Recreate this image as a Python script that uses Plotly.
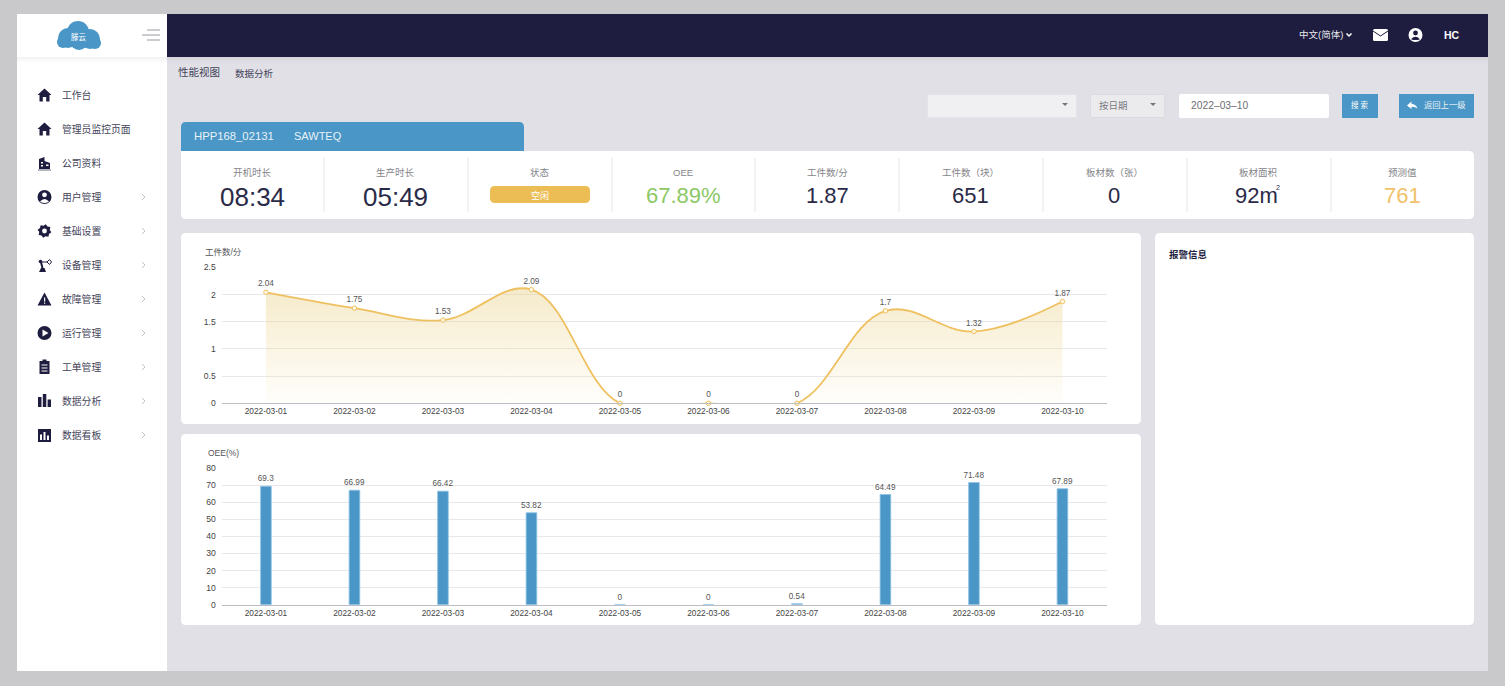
import math
import re
import plotly.graph_objects as go

# -----------------------------
# Data
# -----------------------------
dates = ["2022-03-01", "2022-03-02", "2022-03-03", "2022-03-04", "2022-03-05",
         "2022-03-06", "2022-03-07", "2022-03-08", "2022-03-09", "2022-03-10"]
parts_per_min = [2.04, 1.75, 1.53, 2.09, 0, 0, 0, 1.7, 1.32, 1.87]
oee_values = [69.3, 66.99, 66.42, 53.82, 0, 0, 0.54, 64.49, 71.48, 67.89]

menu_labels = ["工作台", "管理员监控页面", "公司资料", "用户管理", "基础设置", "设备管理",
               "故障管理", "运行管理", "工单管理", "数据分析", "数据看板"]
kpi_labels = ["开机时长", "生产时长", "状态", "OEE", "工件数/分", "工件数（块）", "板材数（张）", "板材面积", "预测值"]
kpi_values = ["08:34", "05:49", "", "67.89%", "1.87", "651", "0", "92m", "761"]

W, H = 1505, 686
FONT = "Liberation Sans, Noto Sans CJK SC, sans-serif"
NAVY = "#1f1d3f"
BLUE = "#4a96c6"
YELLOW = "#ecbd55"

shapes = []
notes = []

# -----------------------------
# Pixel helpers (everything outside the charts is placed in screen pixels)
# -----------------------------
def fx(x):
    return x / W

def fy(y):
    return 1 - y / H

def to_paper(path):
    out = []
    is_x = True
    for tok in re.findall(r"[MLQCZ]|-?\d+\.?\d*", path):
        if tok in "MLQCZ":
            out.append(tok)
            is_x = True
        else:
            out.append(f"{fx(float(tok)) if is_x else fy(float(tok)):.5f}")
            is_x = not is_x
    return " ".join(out)

def add_path(path, color, line=None, width=1):
    shapes.append(dict(type="path", path=to_paper(path), xref="paper", yref="paper", layer="below",
                       fillcolor=color if color else "rgba(0,0,0,0)",
                       line=dict(color=line if line else "rgba(0,0,0,0)", width=width if line else 0)))

def rect(x0, y0, x1, y1, color, line=None):
    shapes.append(dict(type="rect", xref="paper", yref="paper", layer="below",
                       x0=fx(x0), x1=fx(x1), y0=fy(y0), y1=fy(y1), fillcolor=color,
                       line=dict(color=line if line else "rgba(0,0,0,0)", width=1 if line else 0)))

def rrect(x0, y0, x1, y1, color, tl=5, tr=5, br=5, bl=5, line=None):
    p = (f"M {x0+tl} {y0} L {x1-tr} {y0} Q {x1} {y0} {x1} {y0+tr} L {x1} {y1-br} Q {x1} {y1} {x1-br} {y1} "
         f"L {x0+bl} {y1} Q {x0} {y1} {x0} {y1-bl} L {x0} {y0+tl} Q {x0} {y0} {x0+tl} {y0} Z")
    add_path(p, color, line)

def circle(cx, cy, r, color):
    shapes.append(dict(type="circle", xref="paper", yref="paper", layer="below",
                       x0=fx(cx-r), x1=fx(cx+r), y0=fy(cy-r), y1=fy(cy+r), fillcolor=color,
                       line=dict(color="rgba(0,0,0,0)", width=0)))

def seg(x0, y0, x1, y1, color, width=1):
    shapes.append(dict(type="line", xref="paper", yref="paper", layer="below",
                       x0=fx(x0), x1=fx(x1), y0=fy(y0), y1=fy(y1), line=dict(color=color, width=width)))

def txt(x, y, text, size, color, anchor="left", bold=False):
    notes.append(dict(x=fx(x), y=fy(y), xref="paper", yref="paper", text=f"<b>{text}</b>" if bold else text,
                      showarrow=False, xanchor=anchor, yanchor="middle", borderpad=0,
                      font=dict(family=FONT, size=size, color=color)))

# -----------------------------
# Page frame
# -----------------------------
rect(17, 14, 1488, 671, "#e0e0e6")
rect(167, 14, 1488, 57, NAVY)
rect(17, 14, 167, 671, "#ffffff")
for i, alpha in enumerate([0.05, 0.035, 0.02, 0.01]):
    rect(17, 57 + i*1.5, 167, 58.5 + i*1.5, f"rgba(0,0,0,{alpha})")
    rect(167, 57 + i*1.5, 1488, 58.5 + i*1.5, f"rgba(0,0,0,{alpha})")

# logo
for cx, cy, r in [(68, 38, 10), (78, 32, 11), (90, 39, 10), (79, 41, 9), (63, 42, 6), (95, 43, 6)]:
    circle(cx, cy, r, BLUE)
txt(78.5, 37, "滕云", 7.5, "#ffffff", "center")
seg(147, 30, 160, 30, "#9a9aa2")
seg(142, 35, 160, 35, "#9a9aa2")
seg(147, 40, 160, 40, "#9a9aa2")

# -----------------------------
# Sidebar
# -----------------------------
def home(cy):
    add_path(f"M 44.5 {cy-6.5} L 51.5 {cy} L 49.5 {cy} L 49.5 {cy+6.5} L 46.2 {cy+6.5} L 46.2 {cy+2} L 42.8 {cy+2} "
             f"L 42.8 {cy+6.5} L 39.5 {cy+6.5} L 39.5 {cy} L 37.5 {cy} Z", NAVY)

menu_y = [95, 129, 163, 197, 231, 265, 299, 333, 367, 401, 435]
for i, (label, y) in enumerate(zip(menu_labels, menu_y)):
    txt(61, y, label, 9.8, "#44445a")
    if i >= 3:
        add_path(f"M 142 {y-3} L 145 {y} L 142 {y+3}", None, "#c4c4c8", 1)

home(95)
home(129)
# building
add_path("M 39 169 L 39 159 L 44.5 157 L 44.5 161 L 50 163 L 50 169 Z", NAVY)
seg(38, 170, 51, 170, "#6e6e82", 1)
rect(46, 164.5, 48.5, 166, "#ffffff")
rect(41, 162, 43, 163.5, "#ffffff")
rect(41, 165, 43, 166.5, "#ffffff")
# user
circle(44.5, 197, 7, NAVY)
circle(44.5, 194.8, 2.4, "#ffffff")
add_path("M 40 201.5 Q 44.5 196.5 49 201.5 Q 44.5 204.5 40 201.5 Z", "#ffffff")
# gear
gear = []
for k in range(16):
    a = math.radians(k * 22.5 + 11)
    r = 7 if k % 2 == 0 else 5.4
    gear.append(f"{'M' if k == 0 else 'L'} {44.5 + r*math.cos(a):.2f} {231 + r*math.sin(a):.2f}")
add_path(" ".join(gear) + " Z", NAVY)
circle(44.5, 231, 2.4, "#ffffff")
# robot arm
add_path("M 39 272 L 46 272 L 44.5 268 L 41 268 Z", NAVY)
seg(42.5, 268, 41, 262, NAVY, 2)
seg(41, 262, 47, 262, NAVY, 1)
circle(40.5, 261.5, 1.8, NAVY)
add_path("M 47 262 L 49.5 259.5 L 51.5 262 L 49.5 264.5 Z", None, NAVY, 1)
# warning
add_path("M 44.5 292.5 L 51.5 305.5 L 37.5 305.5 Z", NAVY)
rect(44, 297.5, 45.2, 301.5, "#ffffff")
rect(44, 302.5, 45.2, 303.7, "#ffffff")
# play
circle(44.5, 333, 7, NAVY)
add_path("M 42.5 329.5 L 48.5 333 L 42.5 336.5 Z", "#ffffff")
# clipboard
rect(39.5, 361, 49.5, 374, NAVY)
rect(42.5, 359.5, 46.5, 362, NAVY)
for yy in [364.5, 367.5, 370.5]:
    rect(41.5, yy, 47.5, yy + 1, "#ffffff")
# bars
rect(38, 397, 41.5, 407, NAVY)
rect(42.8, 394, 46.3, 407, NAVY)
rect(47.6, 399.5, 51, 407, NAVY)
# board
rect(38, 429, 51, 442, NAVY)
rect(40, 434.5, 42, 440, "#ffffff")
rect(43.5, 432, 45.5, 440, "#ffffff")
rect(47, 435.5, 49, 440, "#ffffff")

# -----------------------------
# Top bar + toolbar
# -----------------------------
txt(1298, 35, "中文(简体)", 9.5, "#e8e8ee")
add_path("M 1346.5 33.5 L 1349 36 L 1351.5 33.5", None, "#ffffff", 1.5)
rrect(1373, 29, 1388, 41, "#ffffff", 1.5, 1.5, 1.5, 1.5)
add_path("M 1373 31 L 1380.5 36 L 1388 31", None, NAVY, 1)
circle(1415.5, 35, 7, "#ffffff")
circle(1415.5, 33, 2.4, NAVY)
add_path("M 1411 39.2 Q 1415.5 34.5 1420 39.2 Q 1415.5 41 1411 39.2 Z", NAVY)
txt(1452, 35, "HC", 10.5, "#ffffff", "center", bold=True)

txt(177, 72, "性能视图", 10.5, "#44445a")
txt(234, 73, "数据分析", 9.5, "#44445a")

rect(927.5, 94.5, 1076.5, 117.5, "#f0f0f3", "#e4e4e8")
add_path("M 1062 103 L 1068 103 L 1065 106 Z", "#777777")
rect(1090.5, 94.5, 1164.5, 117.5, "#ebebed", "#dcdce0")
add_path("M 1150 103 L 1156 103 L 1153 106 Z", "#777777")
txt(1098, 105, "按日期", 9.5, "#7a7a80")
rrect(1179, 94, 1329, 118, "#ffffff", 2, 2, 2, 2)
txt(1190, 105, "2022–03–10", 10.3, "#6e6e74")
rect(1342, 94, 1378, 118, BLUE)
txt(1360, 105, "搜 索", 7.5, "#ffffff", "center")
rect(1399, 94, 1474, 118, BLUE)
add_path("M 1407 105.5 L 1411.5 101.5 L 1411.5 104 Q 1416 104 1417.5 108.5 Q 1415 106.5 1411.5 106.8 L 1411.5 109 Z", "#ffffff")
txt(1445, 105, "返回上一级", 8.3, "#e8f0f6", "center")

# -----------------------------
# Tab + KPI strip
# -----------------------------
rrect(181, 122, 524, 156, BLUE, 5, 5, 0, 0)
rrect(181, 151, 1474, 219, "#ffffff", 0, 5, 5, 5)
txt(193, 136, "HPP168_02131", 11.3, "#e8f2f8")
txt(293, 136, "SAWTEQ", 11, "#e8f2f8")

kpi_x = [252, 396, 540, 683, 827, 970, 1114, 1256, 1402]
kpi_sizes = [26, 26, 22, 22, 22, 22, 22, 22, 22]
kpi_colors = ["#2a2a48", "#2a2a48", "#2a2a48", "#8cc866", "#2a2a48", "#2a2a48", "#2a2a48", "#2a2a48", "#f1c26a"]
for x in [324, 468, 612, 755, 899, 1043, 1187, 1331]:
    seg(x, 158, x, 212, "#e6e6e8")
for x, label, val, col, fs in zip(kpi_x, kpi_labels, kpi_values, kpi_colors, kpi_sizes):
    txt(x + (2 if val == "92m" else 0), 172, label, 9.5, "#85858a", "center")
    if val:
        txt(x, 197 if fs == 26 else 195, val, fs, col, "center")
txt(1278, 187, "2", 7, "#2a2a48", "center")
rrect(490, 186, 590, 203, YELLOW, 5, 5, 5, 5)
txt(540, 195, "空闲", 9, "#ffffff", "center")

# -----------------------------
# Chart cards
# -----------------------------
rrect(181, 233, 1141, 424, "#ffffff")
rrect(181, 434, 1141, 625, "#ffffff")
rrect(1155, 233, 1474, 625, "#ffffff")
txt(1168, 254, "报警信息", 9.5, "#22223f", bold=True)
txt(204, 252, "工件数/分", 8.5, "#55555a")
txt(207, 453, "OEE(%)", 8.5, "#55555a")

# -----------------------------
# Plotly figure
# -----------------------------
fig = go.Figure()

# line first, clipped so the spline stays above the axis
fig.add_trace(go.Scatter(
    x=dates, y=parts_per_min, mode="lines", xaxis="x", yaxis="y",
    line=dict(color="#efc05f", width=1.8, shape="spline", smoothing=1.1),
    fill="tozeroy", hoverinfo="skip",
    fillgradient=dict(type="vertical",
                      colorscale=[[0, "rgba(240,210,130,0.0)"], [1, "rgba(233,210,140,0.45)"]]),
))
fig.add_trace(go.Scatter(
    x=dates, y=parts_per_min, mode="markers+text", xaxis="x", yaxis="y",
    marker=dict(size=4.5, color="#fff8e4", line=dict(color="#efc05f", width=1)),
    text=[str(v) for v in parts_per_min], textposition="top center",
    textfont=dict(family=FONT, size=8.2, color="#555555"), cliponaxis=False,
))
fig.add_trace(go.Bar(
    x=dates, y=oee_values, xaxis="x2", yaxis="y2",
    marker=dict(color=BLUE, line=dict(color="#8cc2e4", width=0.8)),
    text=[str(v) for v in oee_values], textposition="outside", cliponaxis=False, constraintext="none",
    textfont=dict(family=FONT, size=8.2, color="#555555"),
))

x_common = dict(type="category", range=[-0.5, 9.5], showgrid=False, zeroline=False, ticks="",
                showline=True, linecolor="#bcbcc2", linewidth=1.2, fixedrange=True,
                tickfont=dict(family=FONT, size=8.3, color="#444444"))
y_common = dict(showgrid=True, gridcolor="#e8e8ec", gridwidth=1, zeroline=False, showline=False,
                ticks="", fixedrange=True, ticklabelstandoff=5, tickfont=dict(family=FONT, size=8.6, color="#444444"))

fig.update_layout(
    width=W, height=H,
    margin=dict(l=0, r=0, t=0, b=0, autoexpand=False),
    paper_bgcolor="#c9c9cb", plot_bgcolor="rgba(0,0,0,0)",
    showlegend=False, bargap=0.88,
    xaxis=dict(x_common, domain=[fx(221.7), fx(1106.7)], anchor="y"),
    yaxis=dict(y_common, domain=[fy(403.3), fy(267.3)], range=[0, 2.5], dtick=0.5, anchor="x"),
    xaxis2=dict(x_common, domain=[fx(221.7), fx(1106.7)], anchor="y2"),
    yaxis2=dict(y_common, domain=[fy(604.7), fy(468)], range=[0, 80], dtick=10, anchor="x2"),
    shapes=shapes,
    annotations=notes,
)

fig.write_html("out.html", config=dict(displayModeBar=False),
               post_script="document.body.style.margin='0';document.body.style.overflow='hidden';")
